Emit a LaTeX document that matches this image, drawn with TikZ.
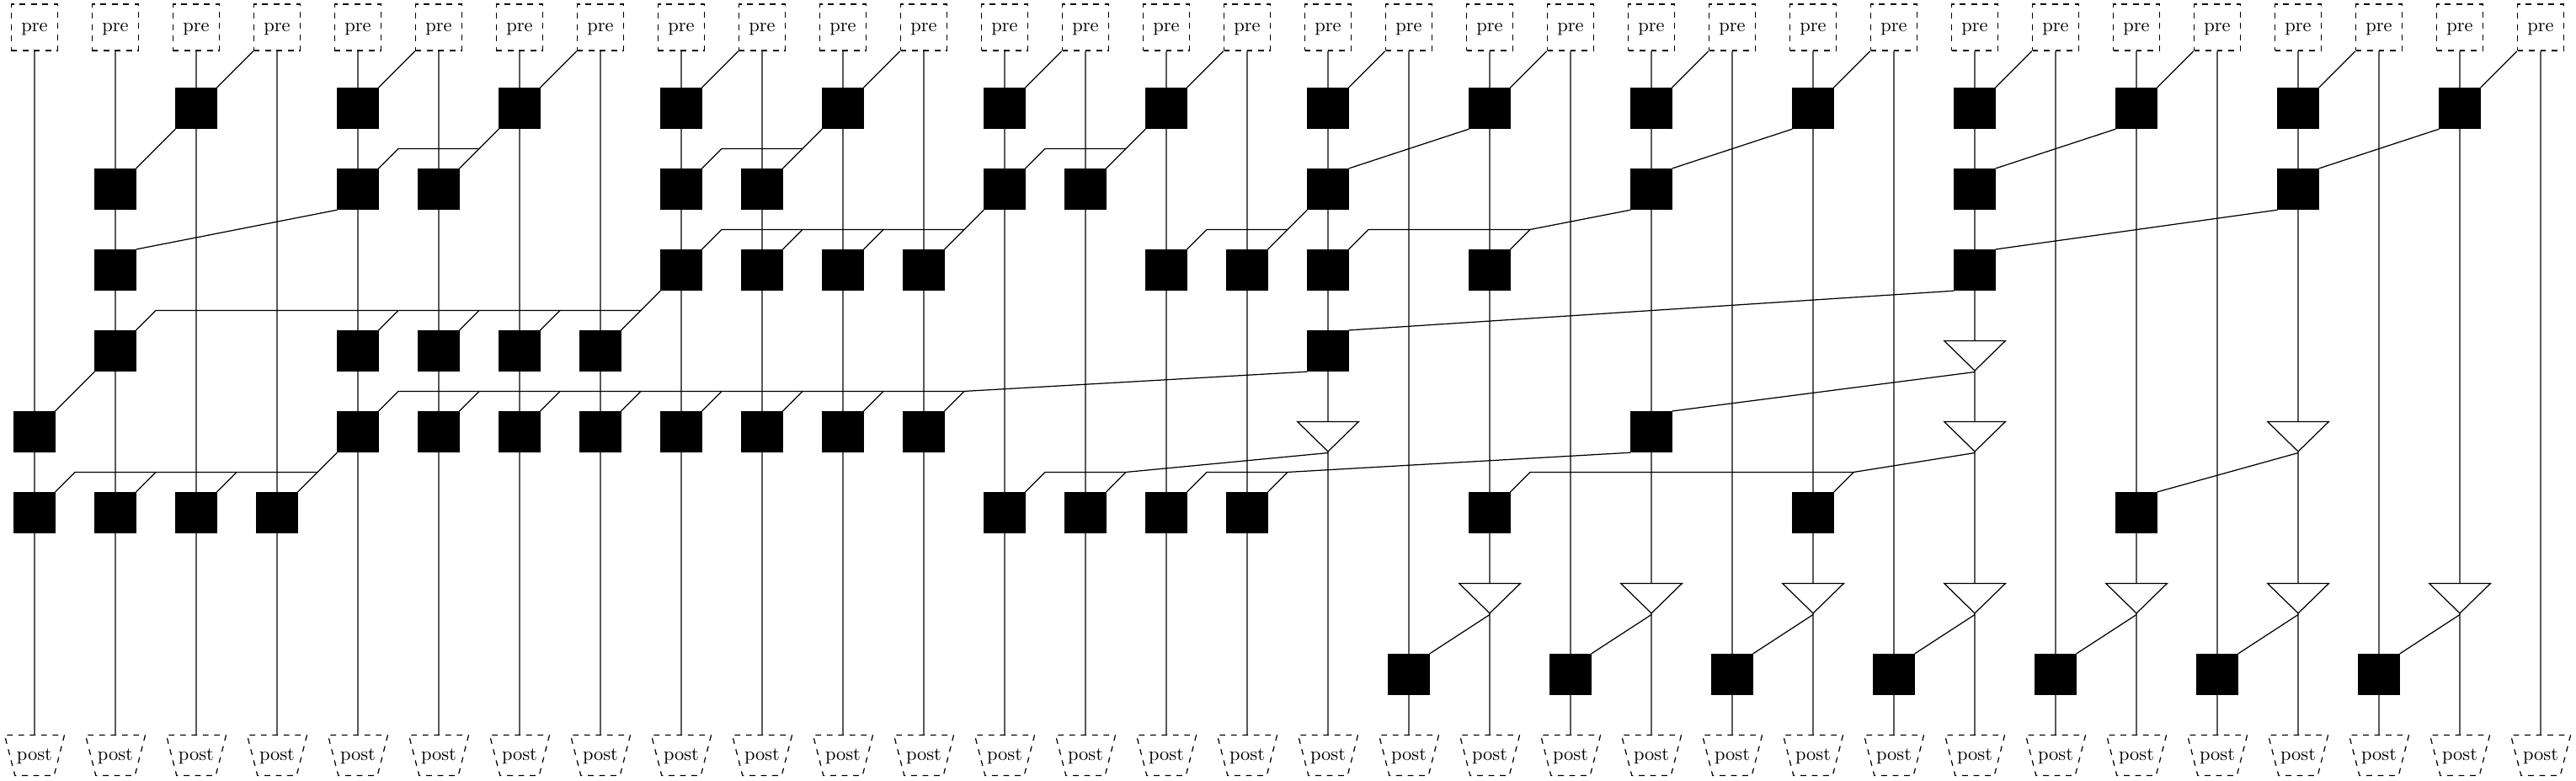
\documentclass[tikz,border=0pt]{standalone}
\usetikzlibrary{calc,shapes.geometric}
\tikzset{
    prenode/.style={draw,dashed,fill=white,minimum width=0.86cm,minimum height=0.86cm,inner sep=0pt,text height=6.1pt,text depth=1.94pt},
    postnode/.style={draw,dashed,fill=white,trapezium,shape border rotate=180,trapezium stretches=true,trapezium angle=62,minimum width=1.11cm,minimum height=0.75cm,inner sep=0pt,text height=7.35pt,text depth=1.94pt},
    gatenode/.style={draw,fill=black,minimum size=0.75cm,inner sep=0pt},
    bufnode/.style={draw,fill=white,isosceles triangle,isosceles triangle stretches=true,shape border rotate=-90,minimum width=1.14cm,minimum height=0.555cm,inner sep=0pt,anchor=apex}
}
\begin{document}
\begin{tikzpicture}[x=1.5cm,y=-1.5cm,line width=0.55pt]
    \useasboundingbox (-0.427,-0.339) rectangle (31.437,9.307);
    % inputs, outputs and their wires
    \foreach \c in {0,...,31} {
        \node[prenode] (pre\c) at (\c,0) {pre};
        \node[postnode] (post\c) at (\c,9) {post};
        \draw (pre\c.south) -- (post\c.north);
    }
    % black cells, row/column
    \foreach \r/\cols in {1/{2,4,6,8,10,12,14,16,18,20,22,24,26,28,30},
                          2/{1,4,5,8,9,12,13,16,20,24,28},
                          3/{1,8,9,10,11,14,15,16,18,24},
                          4/{1,4,5,6,7,16},
                          5/{0,4,5,6,7,8,9,10,11,20},
                          6/{0,1,2,3,12,13,14,15,18,22,26},
                          8/{17,19,21,23,25,27,29}} {
        \foreach \c in \cols {
            \node[gatenode] (g\r-\c) at (\c,\r) {};
        }
    }
    % buffers
    \foreach \r/\c in {4/24,5/16,5/24,5/28,7/18,7/20,7/22,7/24,7/26,7/28,7/30} {
        \node[bufnode] (t\r-\c) at (\c,\r+0.26) {};
    }
    % first row takes the neighbour input
    \foreach \c [evaluate=\c as \n using int(\c+1)] in {2,4,...,30} {
        \draw (g1-\c.north east) -- (pre\n.south west);
    }
    % last row goes to the buffer on its right
    \foreach \c [evaluate=\c as \n using int(\c+1)] in {17,19,...,29} {
        \draw (g8-\c.north east) -- (t7-\n.apex);
    }
    % single connections
    \draw (g2-1.north east) -- (g1-2.south west);
    \draw (g2-16.north east) -- (g1-18.south west);
    \draw (g2-20.north east) -- (g1-22.south west);
    \draw (g2-24.north east) -- (g1-26.south west);
    \draw (g2-28.north east) -- (g1-30.south west);
    \draw (g3-1.north east) -- (g2-4.south west);
    \draw (g3-24.north east) -- (g2-28.south west);
    \draw (g4-16.north east) -- (g3-24.south west);
    \draw (g5-0.north east) -- (g4-1.south west);
    \draw (g5-20.north east) -- (t4-24.apex);
    \draw (g6-26.north east) -- (t5-28.apex);
    % shared connections: row, first and last column, other columns, source
    \foreach \r/\a/\b/\others/\src in {2/4/5/{}/g1-6.south west,
                                       2/8/9/{}/g1-10.south west,
                                       2/12/13/{}/g1-14.south west,
                                       3/8/11/{9,10}/g2-12.south west,
                                       3/14/15/{}/g2-16.south west,
                                       3/16/18/{}/g2-20.south west,
                                       4/1/7/{4,5,6}/g3-8.south west,
                                       5/4/11/{5,6,7,8,9,10}/g4-16.south west,
                                       6/0/3/{1,2}/g5-4.south west,
                                       6/12/13/{}/t5-16.apex,
                                       6/14/15/{}/g5-20.south west,
                                       6/18/22/{}/t5-24.apex} {
        \coordinate (bus\r-\a) at ($(g\r-\a.north east)+(0.245,-0.245)$);
        \coordinate (bus\r-\b) at ($(g\r-\b.north east)+(0.245,-0.245)$);
        \draw (g\r-\a.north east) -- (bus\r-\a) -- (bus\r-\b) -- (\src);
        \draw (g\r-\b.north east) -- (bus\r-\b);
        \foreach \c in \others {
            \coordinate (bus\r-\c) at ($(g\r-\c.north east)+(0.245,-0.245)$);
            \draw (g\r-\c.north east) -- (bus\r-\c);
        }
    }
\end{tikzpicture}
\end{document}
